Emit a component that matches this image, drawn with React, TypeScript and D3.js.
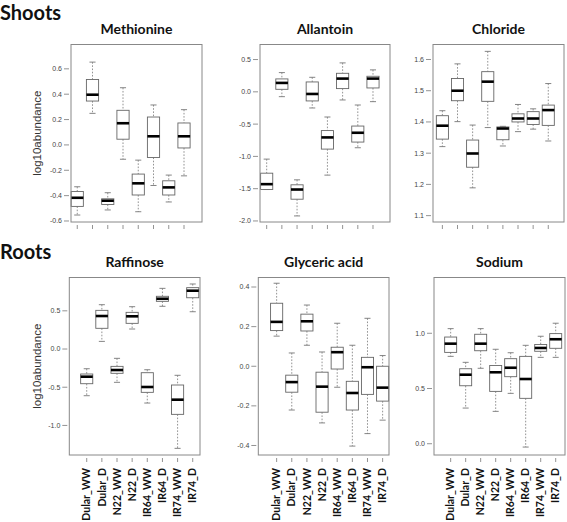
import React from "react";
import * as d3 from "d3";

const groups = ["Dular_WW", "Dular_D", "N22_WW", "N22_D", "IR64_WW", "IR64_D", "IR74_WW", "IR74_D"];

// each row: [min, q1, median, q3, max]
const methionine = [
  [-0.553, -0.485, -0.417, -0.367, -0.33],
  [0.249, 0.346, 0.396, 0.516, 0.653],
  [-0.513, -0.47, -0.44, -0.425, -0.377],
  [-0.113, 0.045, 0.171, 0.273, 0.451],
  [-0.527, -0.395, -0.303, -0.23, -0.12],
  [-0.32, -0.099, 0.068, 0.22, 0.315],
  [-0.45, -0.395, -0.335, -0.283, -0.238],
  [-0.244, -0.024, 0.068, 0.173, 0.278],
];
const allantoin = [
  [-1.513, -1.513, -1.43, -1.26, -1.042],
  [-0.075, 0.039, 0.138, 0.2, 0.298],
  [-1.922, -1.663, -1.513, -1.44, -1.363],
  [-0.25, -0.141, -0.033, 0.153, 0.225],
  [-1.29, -0.887, -0.706, -0.6, -0.39],
  [-0.126, 0.05, 0.205, 0.287, 0.448],
  [-0.866, -0.778, -0.634, -0.53, -0.204],
  [-0.152, 0.06, 0.205, 0.241, 0.34],
];
const chloride = [
  [1.321, 1.345, 1.388, 1.42, 1.436],
  [1.401, 1.468, 1.5, 1.539, 1.586],
  [1.189, 1.255, 1.299, 1.342, 1.39],
  [1.382, 1.466, 1.529, 1.561, 1.626],
  [1.323, 1.343, 1.379, 1.384, 1.386],
  [1.369, 1.4, 1.411, 1.426, 1.456],
  [1.377, 1.392, 1.411, 1.433, 1.442],
  [1.339, 1.389, 1.438, 1.454, 1.523],
];
const raffinose = [
  [-0.611, -0.454, -0.362, -0.327, -0.258],
  [0.1, 0.271, 0.432, 0.506, 0.58],
  [-0.436, -0.318, -0.275, -0.227, -0.122],
  [0.262, 0.336, 0.428, 0.48, 0.554],
  [-0.707, -0.567, -0.497, -0.31, -0.271],
  [0.559, 0.624, 0.658, 0.69, 0.794],
  [-1.3, -0.855, -0.663, -0.471, -0.344],
  [0.488, 0.671, 0.763, 0.803, 0.851],
];
const glycericAcid = [
  [0.152, 0.18, 0.224, 0.318, 0.419],
  [-0.221, -0.131, -0.08, -0.045, 0.067],
  [0.106, 0.178, 0.227, 0.263, 0.309],
  [-0.286, -0.232, -0.103, -0.03, 0.072],
  [-0.106, -0.014, 0.071, 0.096, 0.217],
  [-0.403, -0.221, -0.135, -0.076, 0.106],
  [-0.34, -0.142, -0.005, 0.045, 0.242],
  [-0.272, -0.176, -0.108, 0.0, 0.054],
];
const sodium = [
  [0.791, 0.827, 0.906, 0.966, 1.042],
  [0.323, 0.525, 0.625, 0.679, 0.737],
  [0.683, 0.842, 0.906, 0.991, 1.042],
  [0.293, 0.474, 0.647, 0.708, 0.855],
  [0.456, 0.607, 0.688, 0.77, 0.824],
  [-0.03, 0.411, 0.586, 0.791, 0.891],
  [0.782, 0.837, 0.867, 0.898, 0.973],
  [0.782, 0.864, 0.946, 0.997, 1.091],
];

const methionineTicks = [-0.6, -0.4, -0.2, 0.0, 0.2, 0.4, 0.6];
const allantoinTicks = [-2.0, -1.5, -1.0, -0.5, 0.0, 0.5];
const chlorideTicks = [1.1, 1.2, 1.3, 1.4, 1.5, 1.6];
const raffinoseTicks = [-1.0, -0.5, 0.0, 0.5];
const glycericTicks = [-0.4, -0.2, 0.0, 0.2, 0.4];
const sodiumTicks = [0.0, 0.5, 1.0];

const sans = "'Liberation Sans', Arial, sans-serif";
const cal = "Lato, 'Open Sans', sans-serif";

type PanelProps = {
  title: string;
  data: number[][];
  ticks: number[];
  x0: number; x1: number; y0: number; y1: number;
  xDom: [number, number];
  yDom: [number, number];
  ylabel?: boolean;
  xlabels?: boolean;
};

function Panel(p: PanelProps) {
  const x = d3.scaleLinear().domain(p.xDom).range([p.x0, p.x1]);
  const y = d3.scaleLinear().domain(p.yDom).range([p.y1, p.y0]);
  const unit = x(1) - x(0);
  const hw = unit * 0.4;
  const cw = hw / 2;
  return (
    <g>
      <text x={(p.x0 + p.x1) / 2} y={p.y0 - 11} textAnchor="middle" fontFamily={cal} fontWeight={700} fontSize={14} fill="#111">{p.title}</text>
      {p.ylabel && (
        <text transform={`translate(${41},${(p.y0 + p.y1) / 2}) rotate(-90)`} textAnchor="middle" fontFamily={sans} fontSize={11.5} fill="#333">log10abundance</text>
      )}
      {p.ticks.map((t) => (
        <g key={t}>
          <line x1={p.x0 - 7} x2={p.x0 - 2} y1={y(t)} y2={y(t)} stroke="#777" strokeWidth={0.8} />
          <text x={p.x0 - 9} y={y(t)} dy="0.35em" textAnchor="end" fontFamily={sans} fontSize={7} fill="#444">{t.toFixed(1)}</text>
        </g>
      ))}
      {groups.map((g, i) => (
        <line key={g} x1={x(i)} x2={x(i)} y1={p.y1 + 3} y2={p.y1 + 7} stroke="#777" strokeWidth={0.8} />
      ))}
      {p.xlabels && groups.map((g, i) => (
        <text key={g} transform={`translate(${x(i)},${p.y1 + 13}) rotate(-90)`} textAnchor="end" dy="0.35em" fontFamily={cal} fontWeight={700} fontSize={10.5} fill="#111">{g}</text>
      ))}
      {p.data.map((d, i) => {
        const cx = x(i);
        const [mn, q1, md, q3, mx] = d;
        return (
          <g key={i}>
            <line x1={cx} x2={cx} y1={y(mx)} y2={y(q3)} stroke="#777" strokeWidth={0.8} strokeDasharray="1.6,1.6" />
            <line x1={cx} x2={cx} y1={y(q1)} y2={y(mn)} stroke="#777" strokeWidth={0.8} strokeDasharray="1.6,1.6" />
            <line x1={cx - cw} x2={cx + cw} y1={y(mx)} y2={y(mx)} stroke="#777" strokeWidth={0.9} />
            <line x1={cx - cw} x2={cx + cw} y1={y(mn)} y2={y(mn)} stroke="#777" strokeWidth={0.9} />
            <rect x={cx - hw} y={y(q3)} width={2 * hw} height={Math.max(0.5, y(q1) - y(q3))} fill="white" stroke="#666" strokeWidth={0.9} />
            <line x1={cx - hw} x2={cx + hw} y1={y(md)} y2={y(md)} stroke="#000" strokeWidth={2.6} />
          </g>
        );
      })}
      <rect x={p.x0} y={p.y0} width={p.x1 - p.x0} height={p.y1 - p.y0} fill="none" stroke="#888" strokeWidth={1} />
    </g>
  );
}

export default function App() {
  const top0 = 44.5, top1 = 222;
  const bot0 = 277.5, bot1 = 455;
  return (
    <svg width={567} height={522} style={{ position: "absolute", left: 0, top: 0, background: "white" }}>
      <rect width={567} height={522} fill="white" />
      <text x={0} y={20} fontFamily={cal} fontWeight={700} fontSize={20} fill="#111">Shoots</text>
      <text x={0} y={259} fontFamily={cal} fontWeight={700} fontSize={20} fill="#111">Roots</text>
      <Panel title="Methionine" data={methionine} ticks={methionineTicks} x0={71} x1={202} y0={top0} y1={top1} xDom={[-0.41, 8.18]} yDom={[-0.608, 0.792]} ylabel />
      <Panel title="Allantoin" data={allantoin} ticks={allantoinTicks} x0={260} x1={390} y0={top0} y1={top1} xDom={[-0.44, 8.12]} yDom={[-2.016, 0.733]} />
      <Panel title="Chloride" data={chloride} ticks={chlorideTicks} x0={433} x1={564} y0={top0} y1={top1} xDom={[-0.62, 8.04]} yDom={[1.0796, 1.648]} />
      <Panel title="Raffinose" data={raffinose} ticks={raffinoseTicks} x0={69.3} x1={200} y0={bot0} y1={bot1} xDom={[-1.15, 7.48]} yDom={[-1.387, 0.936]} ylabel xlabels />
      <Panel title="Glyceric acid" data={glycericAcid} ticks={glycericTicks} x0={258.3} x1={389} y0={bot0} y1={bot1} xDom={[-1.21, 7.42]} yDom={[-0.448, 0.448]} xlabels />
      <Panel title="Sodium" data={sodium} ticks={sodiumTicks} x0={434} x1={565} y0={bot0} y1={bot1} xDom={[-1.11, 7.62]} yDom={[-0.102, 1.505]} xlabels />
    </svg>
  );
}
